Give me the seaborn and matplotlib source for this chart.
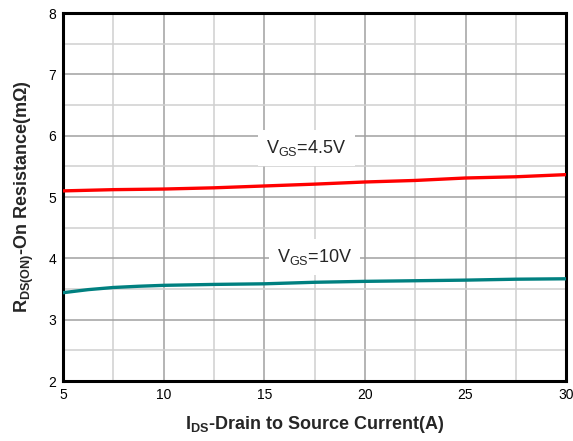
import matplotlib
matplotlib.use("Agg")
import matplotlib.pyplot as plt
import seaborn as sns
import pandas as pd
from matplotlib.ticker import MultipleLocator

current = [5, 6.25, 7.5, 8.75, 10, 12.5, 15, 17.5, 20, 22.5, 25, 27.5, 30]
r_vgs45 = [5.10, 5.11, 5.12, 5.125, 5.13, 5.15, 5.18, 5.21, 5.245, 5.27, 5.31, 5.33, 5.365]
r_vgs10 = [3.44, 3.49, 3.525, 3.545, 3.56, 3.575, 3.585, 3.61, 3.625, 3.635, 3.645, 3.66, 3.667]
series_names = ["VGS=4.5V", "VGS=10V"]
label_texts = [r"V$_{\mathregular{GS}}$=4.5V", r"V$_{\mathregular{GS}}$=10V"]

df = pd.DataFrame({
    "I": current * 2,
    "R": r_vgs45 + r_vgs10,
    "series": [series_names[0]] * len(current) + [series_names[1]] * len(current),
})

sns.set_style("white")
plt.rcParams["font.family"] = ["Liberation Sans", "DejaVu Sans"]
plt.rcParams["mathtext.fontset"] = "custom"
plt.rcParams["mathtext.rm"] = "Liberation Sans"
plt.rcParams["mathtext.bf"] = "Liberation Sans:bold"

fig = plt.figure(figsize=(5.73, 4.41), dpi=100)
ax = fig.add_axes([0.110, 0.136, 0.878, 0.8345])

sns.lineplot(data=df, x="I", y="R", hue="series",
             palette={series_names[0]: "#ff0000", series_names[1]: "#008080"},
             linewidth=2.4, legend=False, ax=ax, zorder=3)

ax.set_xlim(5, 30)
ax.set_ylim(2, 8)
ax.xaxis.set_major_locator(MultipleLocator(5))
ax.xaxis.set_minor_locator(MultipleLocator(2.5))
ax.yaxis.set_major_locator(MultipleLocator(1))
ax.yaxis.set_minor_locator(MultipleLocator(0.5))
ax.grid(which="major", color="#a0a0a0", linewidth=1.1, zorder=0)
ax.grid(which="minor", color="#d0d0d0", linewidth=1.1, zorder=0)
ax.set_axisbelow(True)
ax.tick_params(which="both", length=0, labelsize=10, pad=5, colors="black")
for s in ax.spines.values():
    s.set_visible(True)
    s.set_color("black")
    s.set_linewidth(2.2)

ax.set_xlabel(r"I$_{\mathbf{DS}}$-Drain to Source Current(A)",
              fontsize=13, fontweight="bold", labelpad=9)
ax.set_ylabel(r"R$_{\mathbf{DS(ON)}}$-On Resistance(m$\mathbf{\Omega}$)",
              fontsize=13, fontweight="bold", labelpad=9)

bbox = dict(boxstyle="square,pad=0.45", facecolor="white", edgecolor="none")
ax.text(17.1, 5.8, label_texts[0], fontsize=13, ha="center", va="center", bbox=bbox, zorder=4)
ax.text(17.5, 4.02, label_texts[1], fontsize=13, ha="center", va="center", bbox=bbox, zorder=4)

fig.savefig("out.png", dpi=100)
